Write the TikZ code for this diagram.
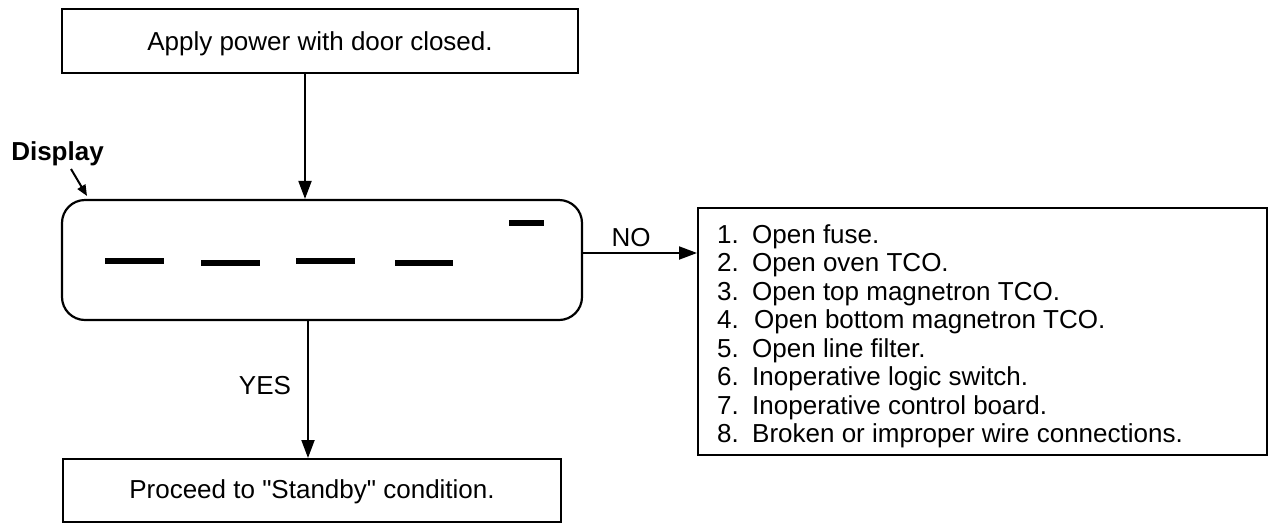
\documentclass[tikz,border=0pt]{standalone}
\usepackage{fontspec}
\setmainfont{Liberation Sans}
\newfontfamily\straightq{Liberation Sans}[Ligatures=TeXOff]
\usetikzlibrary{arrows.meta,calc}
\tikzset{
  box/.style={draw, line width=2pt, inner sep=0pt},
  disp/.style={draw, line width=2.2pt, rounded corners=23pt, inner sep=0pt},
  arr/.style={line width=2pt, -{Triangle[length=18pt,width=13pt]}},
  seg/.style={line width=6pt},
  txt/.style={inner sep=0pt, font=\fontsize{26}{28}\selectfont},
  item/.style={txt, anchor=base west},
}
\begin{document}
\begin{tikzpicture}[x=1pt,y=-1pt]
\useasboundingbox (0,0) rectangle (1269,523);
% boxes
\node[box, minimum width=516pt, minimum height=64pt] (top) at (320,41) {};
\node[txt] (toptxt) at (320,44) {Apply power with door closed.};
\node[disp, minimum width=520pt, minimum height=120pt] (dsp) at (322,260) {};
\node[box, minimum width=569pt, minimum height=247pt] (lst) at (982.5,331.5) {};
\node[box, minimum width=498pt, minimum height=62.5pt] (bot) at (312,490.25) {};
\node[txt] (bottxt) at (312,492) {\straightq Proceed to "Standby" condition.};
% display segments
\draw[seg] (105,261) -- (164,261);
\draw[seg] (201,263) -- (260,263);
\draw[seg] (296,261) -- (355,261);
\draw[seg] (395,263) -- (453,263);
\draw[seg] (509,223) -- (544,223);
% display label
\node[txt, font=\fontsize{26}{28}\selectfont\bfseries] (dlab) at (57.5,154) {Display};
\coordinate (dl1) at (71,169);
\coordinate (dl2) at (87,196);
\draw[line width=2pt, -{Triangle[length=11pt,width=9pt]}] (dl1) -- (dl2);
% connectors
\coordinate (a1) at (305,73);
\draw[arr] (a1) -- (a1 |- dsp.north);
\draw[arr] (dsp.east |- 0,253) -- (lst.west |- 0,253);
\node[txt] (no) at (631,238) {NO};
\coordinate (y1) at (308,320);
\draw[arr] (y1) -- (y1 |- bot.north);
\node[txt] (yes) at (265,386) {YES};
% list
\foreach \n/\t/\dx [count=\i from 0] in {1./Open fuse./0, 2./Open oven TCO./0, 3./Open top magnetron TCO./0, 4./Open bottom magnetron TCO./2, 5./Open line filter./0, 6./Inoperative logic switch./0, 7./Inoperative control board./0, 8./Broken or improper wire connections./0}{
  \node[item] (n\i) at (717, 243+28.5*\i) {\n};
  \node[item] (t\i) at (752+\dx, 243+28.5*\i) {\t};
}
\end{tikzpicture}
\end{document}
